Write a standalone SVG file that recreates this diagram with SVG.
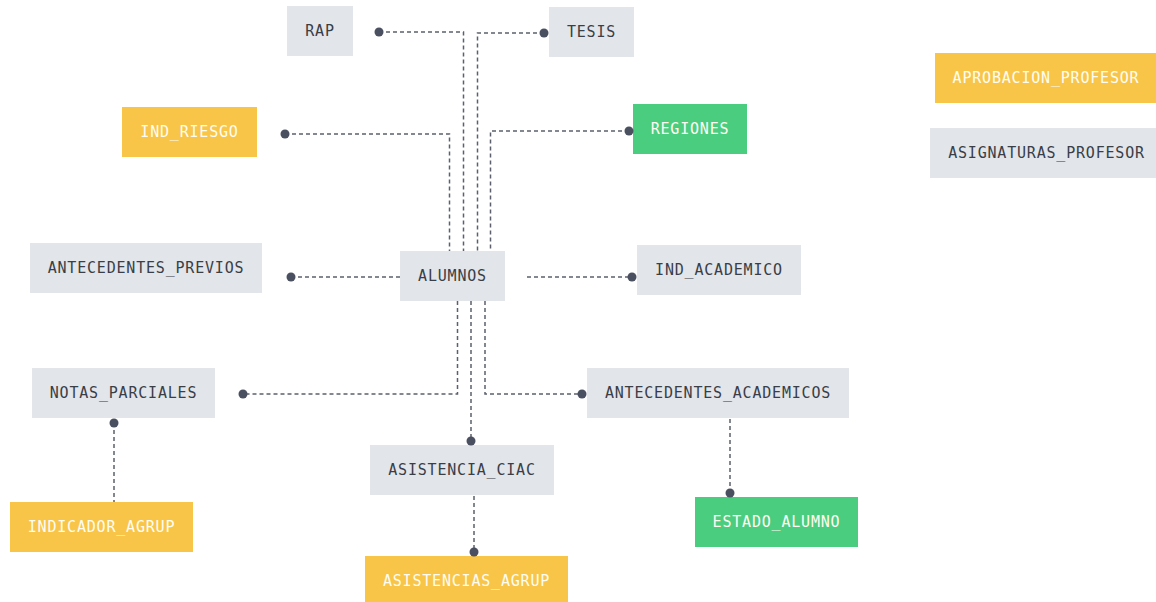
<svg xmlns="http://www.w3.org/2000/svg" width="1156" height="602" viewBox="0 0 1156 602">
<style>
.g rect{fill:#e2e5ea}
.y rect{fill:#f8c549}
.n rect{fill:#4bcd7f}
text{font-family:"DejaVu Sans Mono","Liberation Mono",monospace;font-size:15px;letter-spacing:0.8px;text-anchor:middle;dominant-baseline:central}
.g text{fill:#3a3e46}
.y text,.n text{fill:#fffdf2}
.c path{fill:none;stroke:#5b606c;stroke-width:1.5;stroke-dasharray:4 3}
.c circle{fill:#4b5060}
</style>
<rect width="1156" height="602" fill="#ffffff"/>
<g id="RAP" class="g"><rect x="287" y="6" width="66" height="50"/><text x="320" y="31">RAP</text></g>
<g id="TESIS" class="g"><rect x="549" y="7" width="85" height="50"/><text x="591.5" y="32">TESIS</text></g>
<g id="IND_RIESGO" class="y"><rect x="122" y="107" width="135" height="50"/><text x="189.5" y="132">IND_RIESGO</text></g>
<g id="REGIONES" class="n"><rect x="633" y="104" width="114" height="50"/><text x="690" y="129">REGIONES</text></g>
<g id="ANTECEDENTES_PREVIOS" class="g"><rect x="30" y="243" width="232" height="50"/><text x="146" y="268">ANTECEDENTES_PREVIOS</text></g>
<g id="ALUMNOS" class="g"><rect x="400" y="251" width="105" height="50"/><text x="452.5" y="276">ALUMNOS</text></g>
<g id="IND_ACADEMICO" class="g"><rect x="637" y="245" width="164" height="50"/><text x="719" y="270">IND_ACADEMICO</text></g>
<g id="NOTAS_PARCIALES" class="g"><rect x="32" y="368" width="183" height="50"/><text x="123.5" y="393">NOTAS_PARCIALES</text></g>
<g id="ANTECEDENTES_ACADEMICOS" class="g"><rect x="587" y="368" width="262" height="50"/><text x="718" y="393">ANTECEDENTES_ACADEMICOS</text></g>
<g id="ASISTENCIA_CIAC" class="g"><rect x="370" y="445" width="184" height="50"/><text x="462" y="470">ASISTENCIA_CIAC</text></g>
<g id="INDICADOR_AGRUP" class="y"><rect x="10" y="502" width="183" height="50"/><text x="101.5" y="527">INDICADOR_AGRUP</text></g>
<g id="ESTADO_ALUMNO" class="n"><rect x="695" y="497" width="163" height="50"/><text x="776.5" y="522">ESTADO_ALUMNO</text></g>
<g id="ASISTENCIAS_AGRUP" class="y"><rect x="365" y="556" width="203" height="50"/><text x="466.5" y="581">ASISTENCIAS_AGRUP</text></g>
<g id="APROBACION_PROFESOR" class="y"><rect x="935" y="53" width="222" height="50"/><text x="1046" y="78">APROBACION_PROFESOR</text></g>
<g id="ASIGNATURAS_PROFESOR" class="g"><rect x="930" y="128" width="233" height="50"/><text x="1046.5" y="153">ASIGNATURAS_PROFESOR</text></g>
<g id="connectors" class="c">
<path d="M379 32H463.5V251"/>
<path d="M544 33H477.5V251"/>
<path d="M285 134H449.5V251"/>
<path d="M629 131H490.5V251"/>
<path d="M291 277H400"/>
<path d="M527 277H632"/>
<path d="M457.5 301V394H243"/>
<path d="M485 301V394H582"/>
<path d="M471 301V441"/>
<path d="M114 423V502"/>
<path d="M474 496V552"/>
<path d="M730 419V493"/>
<circle cx="379" cy="32" r="4.5"/>
<circle cx="544" cy="33" r="4.5"/>
<circle cx="285" cy="134" r="4.5"/>
<circle cx="629" cy="131" r="4.5"/>
<circle cx="291" cy="277" r="4.5"/>
<circle cx="632" cy="277" r="4.5"/>
<circle cx="243" cy="394" r="4.5"/>
<circle cx="582" cy="394" r="4.5"/>
<circle cx="471" cy="441" r="4.5"/>
<circle cx="114" cy="423" r="4.5"/>
<circle cx="474" cy="552" r="4.5"/>
<circle cx="730" cy="493" r="4.5"/>
</g>
</svg>
